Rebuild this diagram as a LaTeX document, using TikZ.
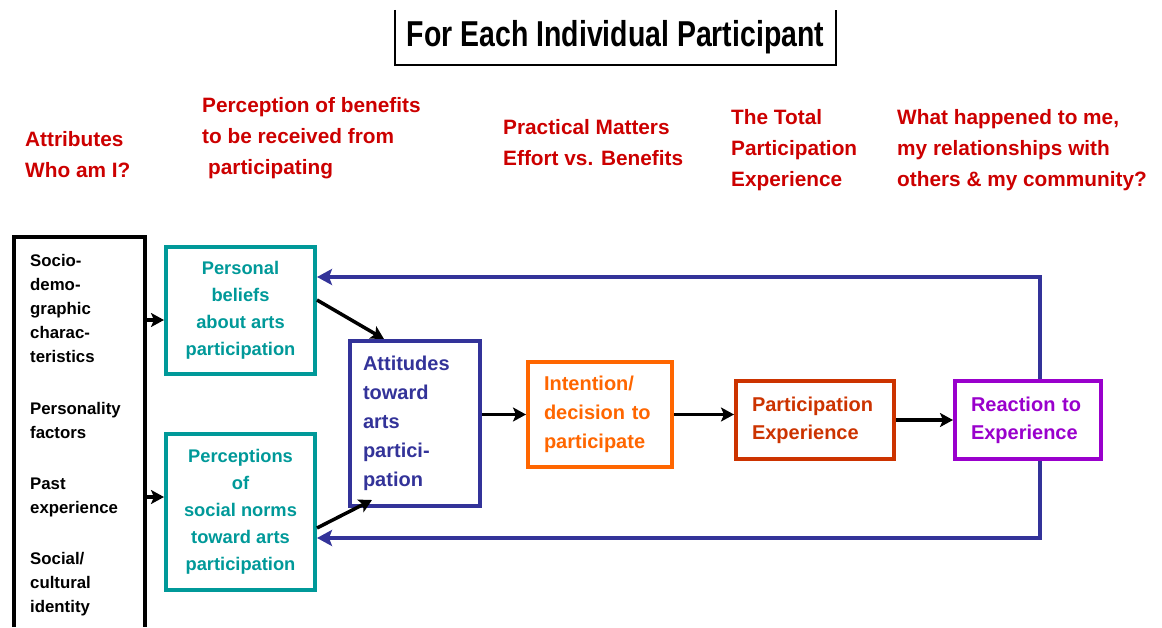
\documentclass[tikz,border=0pt]{standalone}
\usepackage{fontspec}
\setmainfont{Liberation Sans}
\usetikzlibrary{arrows.meta}
\definecolor{hdrred}{RGB}{204,0,0}
\definecolor{tealc}{RGB}{0,153,153}
\definecolor{navyc}{RGB}{51,51,153}
\definecolor{orangec}{RGB}{255,102,0}
\definecolor{rustc}{RGB}{204,51,0}
\definecolor{purplec}{RGB}{153,0,204}
\tikzset{
  hdr/.style={anchor=north west, inner sep=0pt, align=left, text=hdrred, font=\fontsize{20.8}{31}\selectfont\bfseries},
  box/.style={draw, line width=4pt, inner sep=0pt},
  tealbox/.style={box, draw=tealc, text=tealc, align=center, minimum width=149pt, font=\fontsize{18.3}{27}\selectfont\bfseries},
  lbox/.style={box, align=left, font=\fontsize{20}{29}\selectfont\bfseries},
  flow/.style={line width=3.5pt, -{Stealth[length=13pt,width=14pt,inset=3pt]}},
  fb/.style={line width=3.5pt, draw=navyc, -{Stealth[length=15pt,width=16pt,inset=3pt]}, color=navyc},
}
\begin{document}
\begin{tikzpicture}[x=1pt,y=-1pt]
\useasboundingbox (0,0) rectangle (1162,627);
% title
\node[inner sep=0pt, minimum width=441pt, minimum height=55pt] (titlebox) at (615.5,37.5)
  {\fontsize{36}{40}\selectfont\bfseries\scalebox{0.79}[1]{For Each Individual Participant}};
\draw[line width=2pt] (titlebox.north west) -- (titlebox.south west) -- (titlebox.south east) -- (titlebox.north east);
% headers
\node[hdr] (h1) at (25,131) {Attributes\\Who am I?};
\node[hdr] (h2) at (202,97) {Perception of benefits\\to be received from\\\hspace{6pt}participating};
\node[hdr] (h3) at (503,119) {Practical Matters\\Effort vs. Benefits};
\node[hdr] (h4) at (731,109) {The Total\\Participation\\Experience};
\node[hdr] (h5) at (897,109) {What happened to me,\\my relationships with\\others \& my community?};
% attributes box
\node[inner sep=0pt, minimum width=131pt, minimum height=390pt] (attr) at (79.5,432) {};
\draw[line width=3.5pt] (attr.south west) |- (attr.north east) -- (attr.south east);
\node[anchor=north west, inner sep=0pt, align=left, font=\fontsize{16.8}{24}\selectfont\bfseries] (attrtext) at (30,254)
  {Socio-\\demo-\\graphic\\charac-\\teristics\\[28pt]Personality\\factors\\[27pt]Past\\experience\\[27pt]Social/\\cultural\\identity};
% boxes
\node[tealbox, minimum height=127pt] (beliefs) at (240.5,310.5) {Personal\\beliefs\\about arts\\participation};
\node[tealbox, minimum height=156pt] (norms) at (240.5,512) {Perceptions\\of\\social norms\\toward arts\\participation};
\node[lbox, draw=navyc, text=navyc, minimum width=130pt, minimum height=165pt, text width=104pt] (attit) at (415,423.5)
  {Attitudes\\toward\\arts\\partici-\\pation};
\node[lbox, draw=orangec, text=orangec, minimum width=144pt, minimum height=105pt, text width=112pt] (intent) at (600,414.5)
  {Intention/\\decision to\\participate};
\node[lbox, draw=rustc, text=rustc, minimum width=158pt, minimum height=78pt, text width=126pt, font=\fontsize{20}{28}\selectfont\bfseries] (partexp) at (815,420)
  {Participation\\Experience};
\node[lbox, draw=purplec, text=purplec, minimum width=146pt, minimum height=78pt, text width=114pt, font=\fontsize{20}{28}\selectfont\bfseries] (react) at (1028,420)
  {Reaction to\\Experience};
% connectors
\coordinate (binb) at ([yshift=-9.5pt]beliefs.west);
\coordinate (ninb) at ([yshift=15pt]norms.west);
\draw[flow] (attr.east |- binb) -- (binb);
\draw[flow] (attr.east |- ninb) -- (ninb);
\draw[flow] ([yshift=10.5pt]beliefs.east) -- ([xshift=-31pt]attit.north);
\draw[flow] ([yshift=-16pt]norms.east) -- ([xshift=-43pt,yshift=8pt]attit.south);
\draw[flow] (attit.east |- intent.west) -- (intent.west);
\draw[flow] (intent.east) -- (intent.east -| partexp.west);
\draw[flow] (partexp.east) -- (react.west);
\draw[fb] ([xshift=12pt]react.north) |- ([yshift=33.5pt]beliefs.east);
\draw[fb] ([xshift=12pt]react.south) |- ([yshift=-26pt]norms.east);
\end{tikzpicture}
\end{document}
